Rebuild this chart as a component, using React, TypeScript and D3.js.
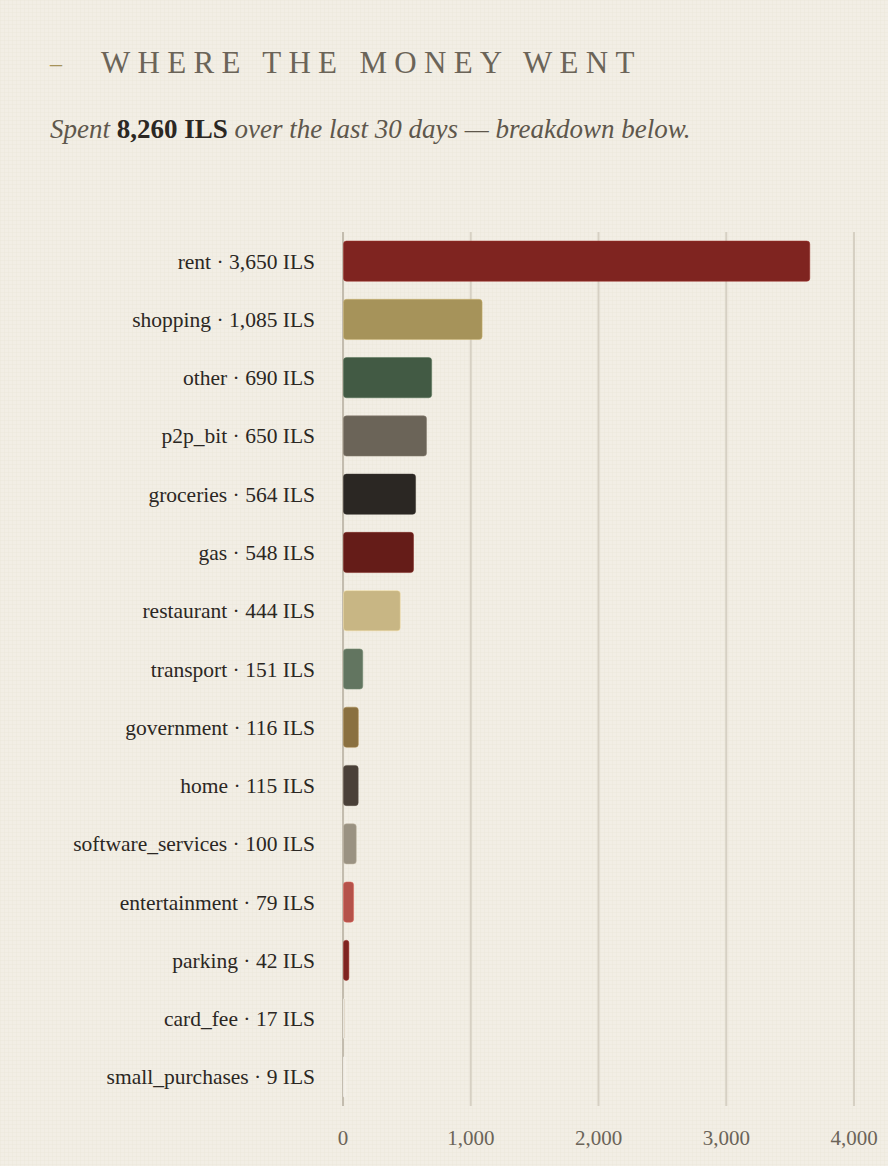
import React, { useEffect } from "react";
import * as d3 from "d3";

const categories = ["rent", "shopping", "other", "p2p_bit", "groceries", "gas", "restaurant", "transport", "government", "home", "software_services", "entertainment", "parking", "card_fee", "small_purchases"];
const amounts = [3650, 1085, 690, 650, 564, 548, 444, 151, 116, 115, 100, 79, 42, 17, 9];
const barColors = ["#7f2420", "#a6935a", "#425a44", "#6b6458", "#2b2723", "#651c18", "#c8b684", "#627560", "#8a7040", "#4a4038", "#9a9282", "#b5524a", "#7f2420", "#e2dacb", "#efe9dc"];
const xTicks = [0, 1000, 2000, 3000, 4000];
const totalSpent = "8,260 ILS";

const W = 888;
const H = 1166;
const FONT = "'Liberation Serif', 'DejaVu Serif', serif";

export default function App() {
  useEffect(() => {
    document.body.style.margin = "0";
    document.body.style.background = "#f2eee5";
  }, []);

  const x = d3.scaleLinear().domain([0, 4000]).range([343, 854]);
  const y = d3.scaleBand<string>().domain(categories).range([232, 1106]).paddingInner(0.31).paddingOuter(0.155);
  const fmt = d3.format(",");

  return (
    <svg width={W} height={H} style={{ display: "block", fontFamily: FONT }}>
      <defs>
        <pattern id="tex" width="4" height="4" patternUnits="userSpaceOnUse">
          <rect width="4" height="4" fill="#f2eee5" />
          <rect width="4" height="1" fill="#ebe6da" opacity="0.4" />
          <rect width="1" height="4" fill="#ebe6da" opacity="0.4" />
        </pattern>
      </defs>
      <rect width={W} height={H} fill="url(#tex)" />

      <text x={50} y={71} fill="#a6935a" fontSize={24}>–</text>
      <text x={101} y={73} fill="#6b6458" fontSize={31} letterSpacing={7.3}>WHERE THE MONEY WENT</text>

      <text x={50} y={138} fontSize={27} fill="#5e574c">
        <tspan fontStyle="italic">Spent </tspan>
        <tspan fontWeight="bold" fill="#2b2723">{totalSpent}</tspan>
        <tspan fontStyle="italic"> over the last 30 days — breakdown below.</tspan>
      </text>

      {xTicks.map((t) => (
        <line key={"g" + t} x1={x(t)} x2={x(t)} y1={232} y2={1106} stroke="#d6d0c3" strokeWidth={2} />
      ))}

      <line x1={x(0)} x2={x(0)} y1={232} y2={1106} stroke="#c3bcae" strokeWidth={2} />

      {categories.map((c, i) => {
        const w = Math.max(x(amounts[i]) - x(0), 1.5);
        return (
          <rect key={c} x={x(0) + 0.5} y={y(c)} width={w} height={y.bandwidth()} rx={Math.min(3, w / 2)} fill={barColors[i]} stroke={d3.color(barColors[i])!.brighter(0.6).toString()} strokeOpacity={0.5} strokeWidth={1} />
        );
      })}

      {categories.map((c, i) => (
        <text key={"l" + c} x={315} y={(y(c) as number) + y.bandwidth() / 2} dy="0.35em" textAnchor="end" fontSize={21.5} fill="#2b2723">
          {c} · {fmt(amounts[i])} ILS
        </text>
      ))}

      {xTicks.map((t) => (
        <text key={"t" + t} x={x(t)} y={1145} textAnchor="middle" fontSize={21} fill="#6b6458">
          {fmt(t)}
        </text>
      ))}
    </svg>
  );
}
